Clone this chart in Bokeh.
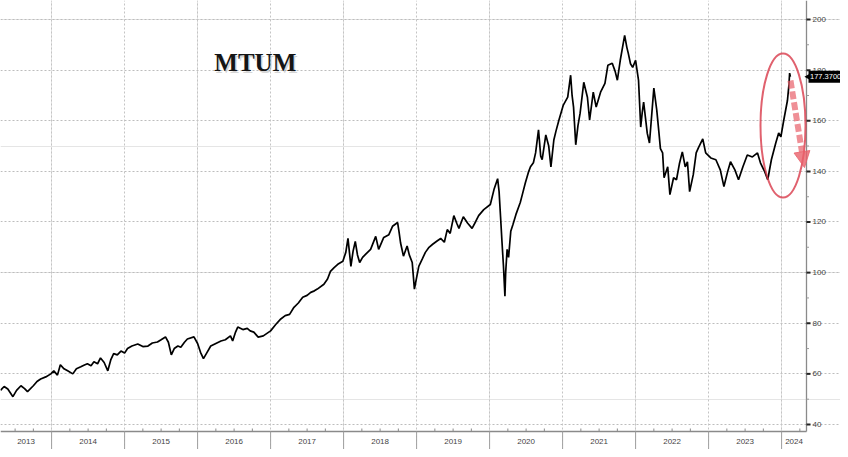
from bokeh.plotting import figure
from bokeh.models import Range1d, FixedTicker, Grid, Arrow, NormalHead
from bokeh.core.properties import value
from bokeh.embed import file_html
from bokeh.resources import INLINE

# ---- data (decimal year, MTUM price) ----
years = [
    2013.30, 2013.35, 2013.40, 2013.47, 2013.52, 2013.58, 2013.63, 2013.67, 2013.75, 2013.80,
    2013.85, 2013.92, 2013.99, 2014.03, 2014.08, 2014.12, 2014.17, 2014.22, 2014.29, 2014.34,
    2014.40, 2014.45, 2014.49, 2014.54, 2014.58, 2014.63, 2014.67, 2014.72, 2014.77, 2014.81,
    2014.85, 2014.90, 2014.95, 2015.00, 2015.04, 2015.10, 2015.18, 2015.25, 2015.32, 2015.38,
    2015.45, 2015.50, 2015.56, 2015.60, 2015.64, 2015.68, 2015.73, 2015.77, 2015.82, 2015.86,
    2015.95, 2016.00, 2016.04, 2016.08, 2016.12, 2016.18, 2016.25, 2016.32, 2016.38, 2016.45,
    2016.48, 2016.52, 2016.55, 2016.62, 2016.68, 2016.72, 2016.77, 2016.83, 2016.90, 2016.95,
    2017.00, 2017.07, 2017.14, 2017.20, 2017.26, 2017.32, 2017.38, 2017.44, 2017.50, 2017.55,
    2017.60, 2017.64, 2017.73, 2017.78, 2017.82, 2017.87, 2017.92, 2017.99, 2018.03, 2018.06,
    2018.08, 2018.10, 2018.13, 2018.16, 2018.19, 2018.22, 2018.26, 2018.30, 2018.37, 2018.44,
    2018.48, 2018.55, 2018.62, 2018.67, 2018.74, 2018.76, 2018.78, 2018.82, 2018.87, 2018.90,
    2018.94, 2018.97, 2019.00, 2019.03, 2019.08, 2019.12, 2019.17, 2019.22, 2019.28, 2019.33,
    2019.38, 2019.42, 2019.46, 2019.51, 2019.55, 2019.58, 2019.64, 2019.70, 2019.76, 2019.81,
    2019.85, 2019.92, 2020.01, 2020.06, 2020.11, 2020.13, 2020.15, 2020.17, 2020.19, 2020.21,
    2020.22, 2020.24, 2020.26, 2020.29, 2020.32, 2020.36, 2020.42, 2020.45, 2020.49, 2020.53,
    2020.56, 2020.60, 2020.63, 2020.67, 2020.70, 2020.72, 2020.77, 2020.81, 2020.84, 2020.88,
    2020.91, 2020.95, 2021.01, 2021.07, 2021.11, 2021.13, 2021.15, 2021.18, 2021.21, 2021.24,
    2021.29, 2021.34, 2021.37, 2021.42, 2021.46, 2021.52, 2021.58, 2021.62, 2021.68, 2021.72,
    2021.75, 2021.79, 2021.85, 2021.88, 2021.90, 2021.93, 2021.96, 2022.00, 2022.04, 2022.07,
    2022.09, 2022.11, 2022.16, 2022.19, 2022.25, 2022.29, 2022.32, 2022.34, 2022.37, 2022.39,
    2022.44, 2022.47, 2022.52, 2022.56, 2022.60, 2022.64, 2022.68, 2022.71, 2022.74, 2022.79,
    2022.83, 2022.86, 2022.92, 2022.96, 2023.03, 2023.10, 2023.16, 2023.21, 2023.26, 2023.30,
    2023.36, 2023.41, 2023.47, 2023.53, 2023.60, 2023.67, 2023.71, 2023.77, 2023.81, 2023.86,
    2023.92, 2023.96, 2023.99, 2024.03, 2024.08, 2024.10, 2024.11, 2024.12,
]
prices = [
    53.5, 55.0, 54.0, 51.0, 53.5, 55.3, 54.2, 53.0, 55.3, 57.0,
    58.0, 58.8, 60.0, 61.2, 59.5, 63.6, 62.0, 61.2, 60.0, 62.0,
    62.8, 63.5, 64.0, 63.2, 64.8, 64.0, 66.3, 64.5, 61.2, 65.5,
    68.0, 67.5, 69.0, 68.2, 70.0, 71.0, 71.8, 70.8, 71.0, 72.2,
    72.6, 73.5, 74.6, 72.5, 67.5, 70.0, 71.0, 70.5, 72.5, 73.8,
    74.6, 72.0, 68.5, 66.0, 68.0, 71.0, 72.0, 73.0, 73.5, 75.0,
    73.0, 76.5, 78.5, 77.5, 78.0, 77.0, 76.5, 74.5, 75.0, 76.0,
    77.0, 79.5, 81.7, 83.0, 83.5, 86.3, 88.0, 90.3, 91.0, 92.2,
    92.8, 93.5, 95.4, 97.5, 100.5, 102.0, 103.3, 104.5, 108.0, 113.5,
    108.0, 102.5, 108.5, 112.3, 107.0, 104.0, 106.0, 107.2, 109.2, 114.3,
    109.2, 113.9, 115.0, 118.3, 119.8, 116.0, 111.8, 106.5, 110.5, 107.0,
    104.0, 93.5, 98.0, 102.5, 105.5, 108.0, 110.0, 111.2, 112.5, 113.5,
    112.0, 117.0, 115.5, 122.5, 119.5, 117.5, 122.1, 119.5, 117.5, 120.2,
    122.5, 124.9, 126.9, 132.8, 137.1, 132.0, 122.1, 112.0, 102.5, 90.7,
    100.0, 109.2, 106.0, 116.3, 119.0, 122.9, 127.7, 131.0, 135.5, 139.5,
    141.8, 143.4, 147.3, 156.4, 146.0, 144.6, 154.4, 150.0, 141.8, 152.4,
    156.0, 160.3, 166.2, 169.3, 178.0, 170.0, 165.4, 150.5, 158.0, 163.0,
    175.2, 169.3, 160.3, 171.3, 165.4, 171.3, 174.8, 181.9, 182.7, 179.5,
    176.0, 183.9, 193.7, 189.0, 186.6, 182.5, 181.1, 183.9, 176.0, 157.5,
    163.0, 167.4, 155.0, 151.2, 172.9, 164.2, 155.2, 149.0, 147.3, 137.5,
    141.8, 130.8, 137.5, 136.7, 143.0, 147.7, 141.8, 143.8, 132.0, 138.7,
    147.3, 149.3, 152.8, 147.3, 145.3, 144.6, 140.6, 134.0, 139.8, 143.8,
    140.6, 136.7, 141.8, 146.5, 145.7, 147.3, 143.4, 139.8, 136.7, 144.6,
    151.2, 155.2, 153.6, 160.3, 168.0, 174.0, 178.8, 177.37,
]
last_price_text = "177.3700"
title_text = "MTUM"

year_starts = [2014, 2015, 2016, 2017, 2018, 2019, 2020, 2021, 2022, 2023, 2024]
year_labels = ["2013", "2014", "2015", "2016", "2017", "2018", "2019", "2020",
               "2021", "2022", "2023", "2024"]
y_ticks = [40, 60, 80, 100, 120, 140, 160, 180, 200]
y_tick_labels = ["40", "60", "80", "100", "120", "140", "160", "180", "200"]
y_minor = [50, 70, 90, 110, 130, 150, 170, 190]

# ---- layout constants (pixel scale: 73 px / year, 2.531 px / unit) ----
W, H = 840, 449
PX_X = 73.0
PX_Y = 2.531
X0 = 2013.30                      # left edge of the frame
X1 = X0 + 806 / PX_X              # price axis position
X_END = X0 + W / PX_X
Y_TOP = 200 + 19 / PX_Y
AXIS_Y = 40 - 7 / PX_Y
Y_BOTTOM = 40 - 25 / PX_Y
LABEL_Y = 40 - 17 / PX_Y
dx = 1 / PX_X
dy = 1 / PX_Y

p = figure(width=W, height=H, output_backend="svg", toolbar_location=None,
           x_range=Range1d(X0, X_END), y_range=Range1d(Y_BOTTOM, Y_TOP),
           x_axis_location=None, y_axis_location=None, min_border=0)
p.outline_line_color = None
p.background_fill_color = "white"
p.border_fill_color = "white"

# grids (dotted), bounded to the plotting area
p.add_layout(Grid(dimension=1, ticker=FixedTicker(ticks=y_ticks),
                  grid_line_color="#bdbdbd", grid_line_dash="2 2", bounds=(X0, X1)))
p.add_layout(Grid(dimension=0, ticker=FixedTicker(ticks=year_starts),
                  grid_line_color="#c4c4c4", grid_line_dash="2 2", bounds=(AXIS_Y, Y_TOP)))

AX_COL = "#8a8a8a"
# bottom time axis
p.segment(x0=[X0], y0=[AXIS_Y], x1=[X1], y1=[AXIS_Y], line_color=AX_COL, line_width=1.3)
p.segment(x0=year_starts, y0=[Y_BOTTOM] * len(year_starts), x1=year_starts,
          y1=[AXIS_Y] * len(year_starts), line_color="#a0a0a0", line_width=1)
quarters = [y + q for y in [2013] + year_starts for q in (0.25, 0.5, 0.75) if X0 < y + q < X1]
p.rect(x=quarters, y=[AXIS_Y + 1.5 * dy] * len(quarters), width=1, height=3,
       width_units="screen", height_units="screen", fill_color=AX_COL, line_color=None)
label_x = [(X0 + 2014) / 2] + [y + 0.5 for y in year_starts[:-1]] + [(2024 + X1) / 2]
p.text(x=label_x, y=[LABEL_Y] * len(label_x), text=year_labels,
       text_align="center", text_baseline="middle",
       text_font=value("Liberation Sans"), text_font_size="8px", text_color="#444444")

# right price axis
p.segment(x0=[X1], y0=[AXIS_Y], x1=[X1], y1=[Y_TOP], line_color=AX_COL, line_width=1.3)
p.rect(x=[X1 + 1.25 * dx] * len(y_minor), y=y_minor, width=2.5, height=1,
       width_units="screen", height_units="screen", fill_color="#9a9a9a", line_color=None)
p.rect(x=[X1 + 2 * dx] * len(y_ticks), y=y_ticks, width=4, height=2,
       width_units="screen", height_units="screen", fill_color="#222222", line_color=None)
p.text(x=[X1 + 6 * dx] * len(y_ticks), y=y_ticks, text=y_tick_labels,
       text_align="left", text_baseline="middle",
       text_font=value("Liberation Sans"), text_font_size="8px", text_color="#444444")

# price line
p.line(years, prices, line_color="black", line_width=1.7)

# title with soft shadow
TX, TY = 2016.79, 183.0
p.text(x=[TX], y=[TY], text=[title_text], x_offset=1.5, y_offset=1.5,
       text_align="center", text_baseline="middle", text_font=value("Liberation Serif"),
       text_font_style="bold", text_font_size="25px", text_color="#888888", text_alpha=0.35)
p.text(x=[TX], y=[TY], text=[title_text],
       text_align="center", text_baseline="middle", text_font=value("Liberation Serif"),
       text_font_style="bold", text_font_size="25px", text_color="#151515")

# red annotation
p.ellipse(x=[X0 + 782.5 / PX_X], y=[158.1], width=45, height=144,
          width_units="screen", height_units="screen",
          fill_alpha=0, line_color="#d83a4a", line_alpha=0.8, line_width=2)
p.add_layout(Arrow(x_start=X0 + 790 / PX_X, y_start=175.9, x_end=X0 + 804 / PX_X, y_end=141.5,
                   line_color="#e8606a", line_alpha=0.7, line_width=6, line_dash="8 3",
                   end=NormalHead(size=16, fill_color="#e8606a", fill_alpha=0.8,
                                  line_color="#e8606a", line_alpha=0.8)))

# last price box on the price axis
last = prices[-1]
p.quad(left=[X1 + 2 * dx], right=[X_END], bottom=[last - 6 * dy], top=[last + 6 * dy],
       fill_color="black", line_color=None)
p.scatter(x=[X1 + 2 * dx], y=[last], marker="triangle", angle=1.5708, size=7,
          fill_color="black", line_color=None)
p.text(x=[X1 + 3.5 * dx], y=[last], text=[last_price_text],
       text_align="left", text_baseline="middle",
       text_font=value("Liberation Sans"), text_font_size="7.5px", text_color="white")

open("out.html", "w").write(file_html(p, INLINE))
